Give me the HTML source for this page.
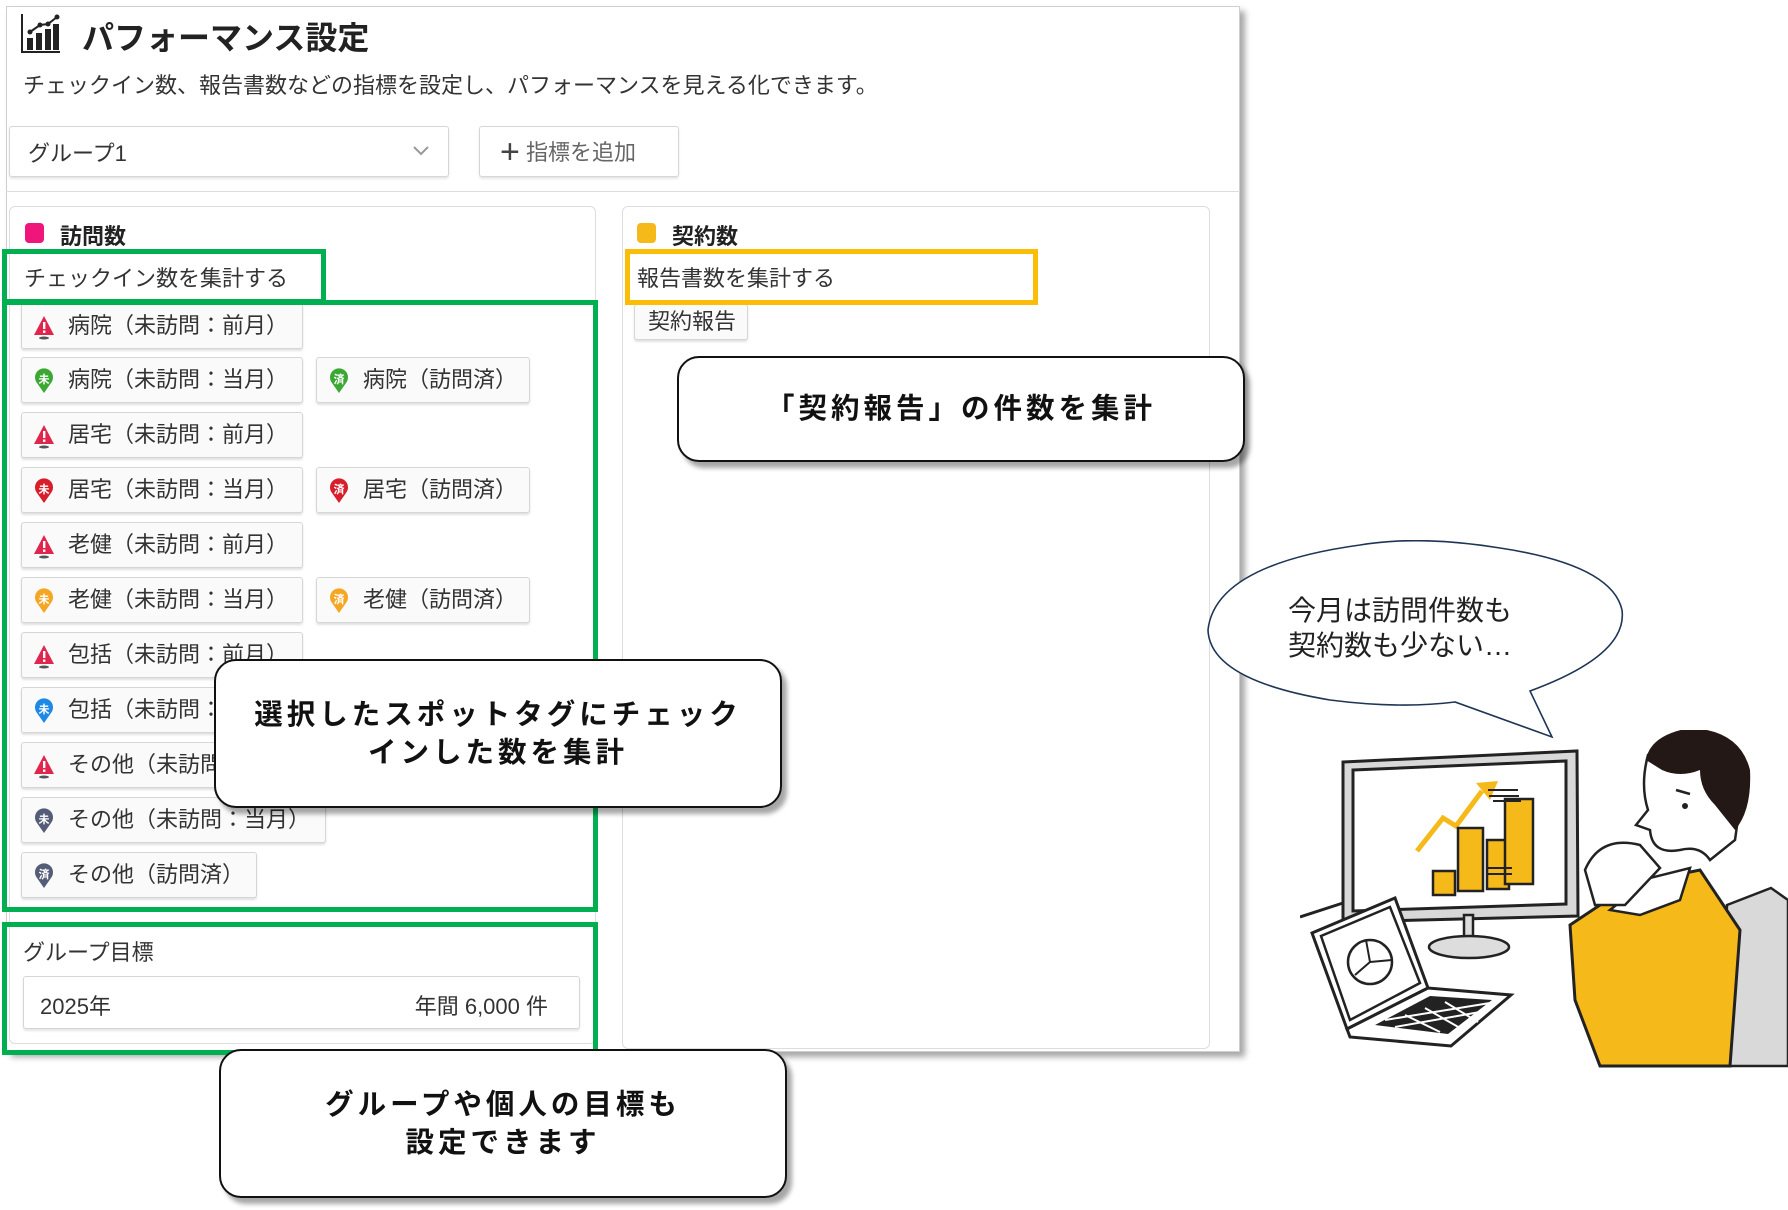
<!DOCTYPE html>
<html><head><meta charset="utf-8"><style>
*{box-sizing:border-box;margin:0;padding:0}
body{width:1788px;height:1210px;background:#fff;position:relative;overflow:hidden;font-family:"Liberation Sans","Noto Sans CJK JP",sans-serif;color:#333}
.a{position:absolute}
.panel{left:6px;top:6px;width:1234px;height:1046px;border:1px solid #cfcfcf;box-shadow:5px 5px 6px rgba(0,0,0,.35);background:#fff}
.card{border:1px solid #ddd;border-radius:6px;background:#fff}
.chip{position:absolute;height:46px;border:1px solid #d6d6d6;border-radius:3px;background:#fafafa;box-shadow:0 2px 2px rgba(0,0,0,.12);font-size:22px;line-height:44px;padding-left:46px;color:#333;white-space:nowrap}
.chip svg{position:absolute;left:10px;top:10px}
.gb{position:absolute;border:5px solid #00b050}
.call{position:absolute;border:2.5px solid #111;border-radius:22px;background:#fff;box-shadow:5px 6px 5px rgba(0,0,0,.35);display:flex;align-items:center;justify-content:center;text-align:center;font-weight:bold;font-size:28.5px;letter-spacing:4px;line-height:38px;color:#111}
</style></head><body>
<div class="a panel"></div>
<svg class="a" style="left:20px;top:12px" width="42" height="42" viewBox="0 0 42 42">
<path d="M2 2V40H40" stroke="#222" stroke-width="2" fill="none"/>
<rect x="7" y="26" width="6" height="12" fill="#222"/><rect x="16" y="21" width="6" height="17" fill="#222"/><rect x="25" y="17" width="6" height="21" fill="#222"/><rect x="33" y="12" width="6" height="26" fill="#222"/>
<path d="M10 20L20 13L28 12L37 5" stroke="#222" stroke-width="2" fill="none"/>
<circle cx="10" cy="20" r="2.5" fill="#222"/><circle cx="20" cy="13" r="2.5" fill="#222"/><circle cx="28" cy="12" r="2.5" fill="#222"/><circle cx="37" cy="5" r="2.5" fill="#222"/>
</svg>
<div class="a" style="left:82px;top:13px;font-size:32px;font-weight:bold;color:#222">パフォーマンス設定</div>
<div class="a" style="left:23px;top:68px;font-size:22px;color:#333">チェックイン数、報告書数などの指標を設定し、パフォーマンスを見える化できます。</div>
<div class="a" style="left:9px;top:126px;width:440px;height:51px;border:1px solid #d6d6d6;border-radius:3px;box-shadow:0 2px 2px rgba(0,0,0,.1)"></div>
<div class="a" style="left:28px;top:136px;font-size:22px;color:#333">グループ1</div>
<svg class="a" style="left:412px;top:145px" width="18" height="12"><path d="M2 2L9 9L16 2" stroke="#999" stroke-width="2" fill="none"/></svg>
<div class="a" style="left:479px;top:126px;width:200px;height:51px;border:1px solid #d6d6d6;border-radius:3px;box-shadow:0 2px 2px rgba(0,0,0,.1)"></div>
<div class="a" style="left:500px;top:135px;font-size:22px;color:#666"><span style="font-size:34px;line-height:24px;color:#444;vertical-align:-3px">+</span> 指標を追加</div>
<div class="a" style="left:6px;top:191px;width:1234px;height:1px;background:#ddd"></div>

<div class="a card" style="left:9px;top:206px;width:587px;height:838px"></div>
<div class="a card" style="left:622px;top:206px;width:588px;height:843px"></div>
<div class="a" style="left:25px;top:223px;width:19px;height:20px;border-radius:4px;background:#f0157a"></div>
<div class="a" style="left:60px;top:219px;font-size:22px;font-weight:bold;color:#222">訪問数</div>
<div class="a" style="left:637px;top:223px;width:19px;height:20px;border-radius:4px;background:#f6b91a"></div>
<div class="a" style="left:672px;top:219px;font-size:22px;font-weight:bold;color:#222">契約数</div>

<div class="a" style="left:24px;top:261px;font-size:22px">チェックイン数を集計する</div>
<div class="a" style="left:637px;top:261px;font-size:22px">報告書数を集計する</div>
<div class="chip" style="left:634px;top:304px;width:114px;padding-left:13px;height:36px;line-height:34px">契約報告</div>

<svg width="0" height="0" style="position:absolute"><defs>
<g id="warn"><path d="M12 2L22 21H2Z" fill="#e0264d"/><rect x="11" y="8" width="2.4" height="7" fill="#fff"/><rect x="11" y="16.5" width="2.4" height="2.4" fill="#fff"/><ellipse cx="12" cy="24" rx="5" ry="1.5" fill="#555"/></g>
</defs></svg>
<div class="chip" style="left:21px;top:303px;width:282px"><svg width="24" height="26"><use href="#warn"/></svg>病院（未訪問：前月）</div>
<div class="chip" style="left:21px;top:357px;width:282px"><svg width="24" height="26"><path d="M12 25L5 15A9 9 0 1 1 19 15Z" fill="#3aa832"/><text x="12" y="15" font-size="11" fill="#fff" text-anchor="middle" font-weight="bold" font-family="Noto Sans CJK JP">未</text></svg>病院（未訪問：当月）</div>
<div class="chip" style="left:316px;top:357px;width:214px"><svg width="24" height="26"><path d="M12 25L5 15A9 9 0 1 1 19 15Z" fill="#3aa832"/><text x="12" y="15" font-size="11" fill="#fff" text-anchor="middle" font-weight="bold" font-family="Noto Sans CJK JP">済</text></svg>病院（訪問済）</div>
<div class="chip" style="left:21px;top:412px;width:282px"><svg width="24" height="26"><use href="#warn"/></svg>居宅（未訪問：前月）</div>
<div class="chip" style="left:21px;top:467px;width:282px"><svg width="24" height="26"><path d="M12 25L5 15A9 9 0 1 1 19 15Z" fill="#d81e2a"/><text x="12" y="15" font-size="11" fill="#fff" text-anchor="middle" font-weight="bold" font-family="Noto Sans CJK JP">未</text></svg>居宅（未訪問：当月）</div>
<div class="chip" style="left:316px;top:467px;width:214px"><svg width="24" height="26"><path d="M12 25L5 15A9 9 0 1 1 19 15Z" fill="#d81e2a"/><text x="12" y="15" font-size="11" fill="#fff" text-anchor="middle" font-weight="bold" font-family="Noto Sans CJK JP">済</text></svg>居宅（訪問済）</div>
<div class="chip" style="left:21px;top:522px;width:282px"><svg width="24" height="26"><use href="#warn"/></svg>老健（未訪問：前月）</div>
<div class="chip" style="left:21px;top:577px;width:282px"><svg width="24" height="26"><path d="M12 25L5 15A9 9 0 1 1 19 15Z" fill="#f5a623"/><text x="12" y="15" font-size="11" fill="#fff" text-anchor="middle" font-weight="bold" font-family="Noto Sans CJK JP">未</text></svg>老健（未訪問：当月）</div>
<div class="chip" style="left:316px;top:577px;width:214px"><svg width="24" height="26"><path d="M12 25L5 15A9 9 0 1 1 19 15Z" fill="#f5a623"/><text x="12" y="15" font-size="11" fill="#fff" text-anchor="middle" font-weight="bold" font-family="Noto Sans CJK JP">済</text></svg>老健（訪問済）</div>
<div class="chip" style="left:21px;top:632px;width:282px"><svg width="24" height="26"><use href="#warn"/></svg>包括（未訪問：前月）</div>
<div class="chip" style="left:21px;top:687px;width:282px"><svg width="24" height="26"><path d="M12 25L5 15A9 9 0 1 1 19 15Z" fill="#1e88e5"/><text x="12" y="15" font-size="11" fill="#fff" text-anchor="middle" font-weight="bold" font-family="Noto Sans CJK JP">未</text></svg>包括（未訪問：当月）</div>
<div class="chip" style="left:21px;top:742px;width:282px"><svg width="24" height="26"><use href="#warn"/></svg>その他（未訪問：前月）</div>
<div class="chip" style="left:21px;top:797px;width:305px"><svg width="24" height="26"><path d="M12 25L5 15A9 9 0 1 1 19 15Z" fill="#545c78"/><text x="12" y="15" font-size="11" fill="#fff" text-anchor="middle" font-weight="bold" font-family="Noto Sans CJK JP">未</text></svg>その他（未訪問：当月）</div>
<div class="chip" style="left:21px;top:852px;width:236px"><svg width="24" height="26"><path d="M12 25L5 15A9 9 0 1 1 19 15Z" fill="#545c78"/><text x="12" y="15" font-size="11" fill="#fff" text-anchor="middle" font-weight="bold" font-family="Noto Sans CJK JP">済</text></svg>その他（訪問済）</div>

<div class="a" style="left:23px;top:935px;font-size:22px">グループ目標</div>
<div class="a" style="left:23px;top:976px;width:557px;height:53px;border:1px solid #d6d6d6;border-radius:3px;box-shadow:0 2px 2px rgba(0,0,0,.1)"></div>
<div class="a" style="left:40px;top:989px;font-size:22px">2025年</div>
<div class="a" style="left:380px;top:989px;width:168px;text-align:right;font-size:22px">年間 6,000 件</div>

<div class="gb" style="left:2px;top:249px;width:324px;height:55px"></div>
<div class="gb" style="left:2px;top:300px;width:596px;height:612px"></div>
<div class="gb" style="left:2px;top:922px;width:596px;height:133px"></div>
<div class="a" style="left:625px;top:249px;width:413px;height:56px;border:5px solid #fbbd08"></div>

<div class="call" style="left:677px;top:356px;width:568px;height:106px">「契約報告」の件数を集計</div>
<div class="call" style="left:214px;top:659px;width:568px;height:149px">選択したスポットタグにチェック<br>インした数を集計</div>
<div class="call" style="left:219px;top:1049px;width:568px;height:149px">グループや個人の目標も<br>設定できます</div>

<svg class="a" style="left:1190px;top:540px" width="440" height="210" viewBox="1190 540 440 210">
<path d="M1530 691 Q1628 655 1622 610 Q1612 565 1500 548 Q1420 535 1360 545 Q1215 565 1208 630 Q1210 680 1330 700 Q1400 709 1455 702 L1552 737 Z" fill="#fff" stroke="#1f3556" stroke-width="1.6"/>
</svg>
<div class="a" style="left:1288px;top:593px;font-size:28px;line-height:35px;color:#222">今月は訪問件数も<br>契約数も少ない…</div>

<svg class="a" style="left:1300px;top:730px" width="488" height="340" viewBox="1300 730 488 340">
<path d="M1300 917L1343 903" stroke="#222" stroke-width="3"/>
<path d="M1343 762L1577 751L1578 916L1343 922Z" fill="#d8d8d8" stroke="#222" stroke-width="3"/>
<path d="M1353 770L1566 761L1566 904L1353 911Z" fill="#fff" stroke="#222" stroke-width="3"/>
<rect x="1464" y="915" width="9" height="28" fill="#ddd" stroke="#222" stroke-width="2.5"/>
<ellipse cx="1469" cy="947" rx="40" ry="11" fill="#ddd" stroke="#222" stroke-width="2.5"/>
<path d="M1417 851L1443 818L1456 826L1482 791" stroke="#f6b91a" stroke-width="5" fill="none"/>
<path d="M1476 783L1498 781L1490 800Z" fill="#f6b91a"/>
<g stroke="#222" stroke-width="2.5" fill="#f6b91a">
<path d="M1433 871h22v24h-22z"/><path d="M1458 828h25v63h-25z"/><path d="M1487 840h22v49h-22z"/><path d="M1505 799h28v85h-28z"/>
</g>
<path d="M1488 790h30M1489 796h30M1493 801h28M1488 868h24M1488 874h24" stroke="#222" stroke-width="2"/>
<path d="M1312 933L1395 898L1428 988L1347 1029Z" fill="#fff" stroke="#222" stroke-width="3"/>
<path d="M1321 936L1390 907L1420 983L1350 1020Z" fill="#fff" stroke="#222" stroke-width="2.5"/>
<circle cx="1370" cy="962" r="22" fill="#fff" stroke="#222" stroke-width="2.5"/>
<path d="M1370 962L1392 960M1370 962L1355 975M1370 962L1366 940" stroke="#222" stroke-width="2"/>
<path d="M1347 1029L1428 988L1511 995L1451 1046L1350 1037Z" fill="#fff" stroke="#222" stroke-width="3"/>
<path d="M1375 1025L1430 996L1492 1000L1448 1034Z" fill="#222"/>
<path d="M1385 1020L1490 1003M1395 1027L1480 1012M1405 1015L1440 1032M1425 1008L1460 1028M1445 1002L1478 1022" stroke="#fff" stroke-width="2"/>
<path d="M1727 905L1771 888L1788 900V1066H1720Z" fill="#d9d9d9" stroke="#222" stroke-width="2.5"/>
<path d="M1570 925L1600 905L1650 880L1700 870L1740 930L1730 1066H1600L1575 1000Z" fill="#f6b91a" stroke="#222" stroke-width="3"/>
<path d="M1610 910L1650 878L1690 868L1680 900L1640 915Z" fill="#fff" stroke="#222" stroke-width="2.5"/>
<path d="M1585 870Q1600 835 1640 845L1660 868L1625 905L1595 905Z" fill="#fff" stroke="#222" stroke-width="2.5"/>
<path d="M1648 755Q1640 785 1648 810L1636 825L1650 830Q1652 855 1680 850Q1700 845 1710 860L1735 840L1742 790Q1735 755 1700 752Z" fill="#fff" stroke="#222" stroke-width="2.5"/>
<path d="M1646 760Q1650 735 1690 728Q1740 730 1750 770Q1752 810 1735 830L1715 805Q1700 790 1700 770Q1680 778 1662 770Z" fill="#231815"/>
<circle cx="1685" cy="806" r="3" fill="#222"/>
<path d="M1676 790L1690 794" stroke="#222" stroke-width="2.5"/>
</svg>
</body></html>
